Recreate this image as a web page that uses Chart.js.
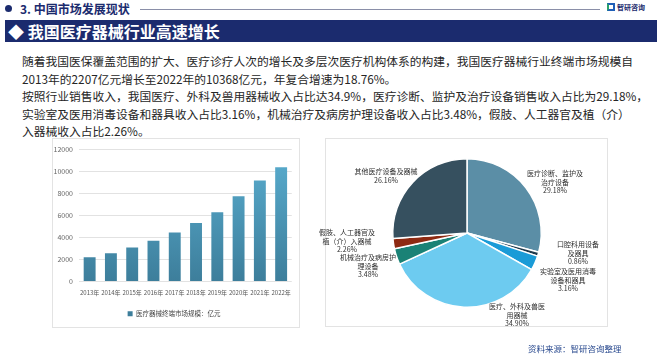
<!DOCTYPE html>
<html>
<head>
<meta charset="utf-8">
<script src="https://cdn.jsdelivr.net/npm/chart.js@4.4.1/dist/chart.umd.min.js"></script>
<style>
  body { margin: 0; width: 660px; height: 359px; background: #fff; position: relative; overflow: hidden;
         font-family: "Noto Sans CJK SC", "Noto Sans", sans-serif; }
  .abs { position: absolute; }
  #dot { left: 5px; top: 5px; width: 7px; height: 7px; border-radius: 50%; background: #1b2b6e; }
  #sect { left: 20px; top: 0px; font-size: 12px; font-weight: bold; color: #1b2b6e; line-height: 17px; white-space: nowrap; }
  #rule { left: 140px; top: 9px; width: 460px; height: 1px; background: #8a8fa8; }
  #logoIcon { left: 607px; top: 3px; width: 8px; height: 8px; border: 2px solid #1f5fb8; border-left-color: #2aa26a; box-sizing: border-box; }
  #logoText { left: 617px; top: 1px; font-size: 7px; font-weight: bold; color: #1b2b6e; line-height: 12px; white-space: nowrap; }
  #bar { left: 5px; top: 20px; width: 652px; height: 22px; background: #1b2b6e; }
  #title { left: 8px; top: 20px; font-size: 16px; font-weight: bold; color: #fff; line-height: 22px; white-space: nowrap; }
  #para { left: 22px; top: 52px; font-size: 11.75px; color: #262626; line-height: 17.5px; white-space: nowrap; }
  .panel { border: 1px solid #e3e3e3; background: #fff; box-sizing: border-box; }
  #leftPanel { left: 52px; top: 138px; width: 248px; height: 190px; }
  #rightPanel { left: 325px; top: 138px; width: 283px; height: 189px; }
  .lbl { position: absolute; transform: translate(-50%, -50%); font-size: 7px; line-height: 8.5px; color: #2e2e2e;
         text-align: center; white-space: nowrap; }
  #source { left: 528px; top: 341px; font-size: 8.5px; color: #2a4a8f; line-height: 14px; white-space: nowrap; }
</style>
</head>
<body>
<div id="dot" class="abs"></div>
<div id="sect" class="abs">3. 中国市场发展现状</div>
<div id="rule" class="abs"></div>
<div id="logoIcon" class="abs"></div>
<div id="logoText" class="abs">智研咨询</div>
<div id="bar" class="abs"></div>
<div id="title" class="abs">◆ 我国医疗器械行业高速增长</div>
<div id="para" class="abs">随着我国医保覆盖范围的扩大、医疗诊疗人次的增长及多层次医疗机构体系的构建，我国医疗器械行业终端市场规模自<br>2013年的2207亿元增长至2022年的10368亿元，年复合增速为18.76%。<br>按照行业销售收入，我国医疗、外科及兽用器械收入占比达34.9%，医疗诊断、监护及治疗设备销售收入占比为29.18%，<br>实验室及医用消毒设备和器具收入占比3.16%，机械治疗及病房护理设备收入占比3.48%，假肢、人工器官及植（介）<br>入器械收入占比2.26%。</div>

<div id="leftPanel" class="abs panel"><canvas id="barChart" width="246" height="188"></canvas></div>
<div id="rightPanel" class="abs panel"><canvas id="pieChart" width="281" height="187"></canvas></div>
<div id="pieLabels"></div>
<div id="source" class="abs">资料来源：智研咨询整理</div>

<script>
// 医疗器械终端市场规模（亿元）
const years = ['2013年', '2014年', '2015年', '2016年', '2017年', '2018年', '2019年', '2020年', '2021年', '2022年'];
const marketSize = [2207, 2556, 3080, 3700, 4450, 5304, 6285, 7735, 9150, 10368];
const seriesName = '医疗器械终端市场规模：亿元';

// 销售收入占比（%），顺时针自12点起
const segNames = ['医疗诊断、监护及治疗设备', '口腔科用设备及器具', '实验室及医用消毒设备和器具',
  '医疗、外科及兽医用器械', '机械治疗及病房护理设备', '假肢、人工器官及植（介）入器械', '其他医疗设备及器械'];
const segShares = [29.18, 0.86, 3.16, 34.90, 3.48, 2.26, 26.16];
const segLabelLines = [
  ['医疗诊断、监护及', '治疗设备', '29.18%'],
  ['口腔科用设备', '及器具', '0.86%'],
  ['实验室及医用消毒', '设备和器具', '3.16%'],
  ['医疗、外科及兽医', '用器械', '34.90%'],
  ['机械治疗及病房护', '理设备', '3.48%'],
  ['假肢、人工器官及', '植（介）入器械', '2.26%'],
  ['其他医疗设备及器械', '26.16%']
];
const segColors = ['#5b8ea6', '#1f3a4d', '#1a9bd7', '#6dcbf0', '#1a8276', '#8e2a12', '#36505f'];
// label centres (page px)
const labelPos = [[555, 182], [578, 253], [568, 280], [517, 315], [368, 266], [347, 241], [386, 175]];

const tickFont = { family: "'Liberation Sans Narrow', 'Noto Sans CJK SC'", size: 7 };
const xTickFont = { family: "'Liberation Sans Narrow', 'Noto Sans CJK SC'", size: 6 };

function barFill(ctx) {
  const area = ctx.chart.chartArea;
  if (!area) return '#4f97b8';
  const g = ctx.chart.ctx.createLinearGradient(0, area.top, 0, area.bottom);
  g.addColorStop(0, '#5aaed0');
  g.addColorStop(1, '#3d7e9b');
  return g;
}

new Chart(document.getElementById('barChart'), {
  type: 'bar',
  data: {
    labels: years,
    datasets: [{ label: seriesName, data: marketSize, backgroundColor: barFill,
                 categoryPercentage: 1, barPercentage: 0.56 }]
  },
  options: {
    responsive: false,
    animation: false,
    layout: { padding: { top: 9, right: 4, left: 0, bottom: 0 } },
    plugins: {
      tooltip: { enabled: false },
      legend: { position: 'bottom',
        labels: { font: { family: 'Noto Sans CJK SC', size: 6.5 }, color: '#444', boxWidth: 5, boxHeight: 5, padding: 7 } }
    },
    scales: {
      x: { grid: { display: false, drawTicks: false }, border: { display: false },
           ticks: { font: xTickFont, color: '#555', padding: 8, maxRotation: 0, autoSkip: false },
           afterFit: s => { s.height = 22; } },
      y: { min: 0, max: 12000, grid: { color: '#e2e2e2', drawTicks: false }, border: { display: false },
           ticks: { stepSize: 2000, font: tickFont, color: '#666', padding: 6, callback: v => String(v) },
           afterFit: s => { s.width = 26; } }
    }
  }
});

new Chart(document.getElementById('pieChart'), {
  type: 'pie',
  data: {
    labels: segNames,
    datasets: [{ data: segShares, backgroundColor: segColors, borderColor: '#fff', borderWidth: 1.5 }]
  },
  options: {
    responsive: false,
    animation: false,
    layout: { padding: { left: 66, right: 65, top: 19, bottom: 18 } },
    plugins: { legend: { display: false }, tooltip: { enabled: false } }
  }
});

const holder = document.getElementById('pieLabels');
segLabelLines.forEach((lines, i) => {
  const d = document.createElement('div');
  d.className = 'lbl';
  d.style.left = labelPos[i][0] + 'px';
  d.style.top = labelPos[i][1] + 'px';
  d.innerHTML = lines.join('<br>');
  holder.appendChild(d);
});
</script>
</body>
</html>
